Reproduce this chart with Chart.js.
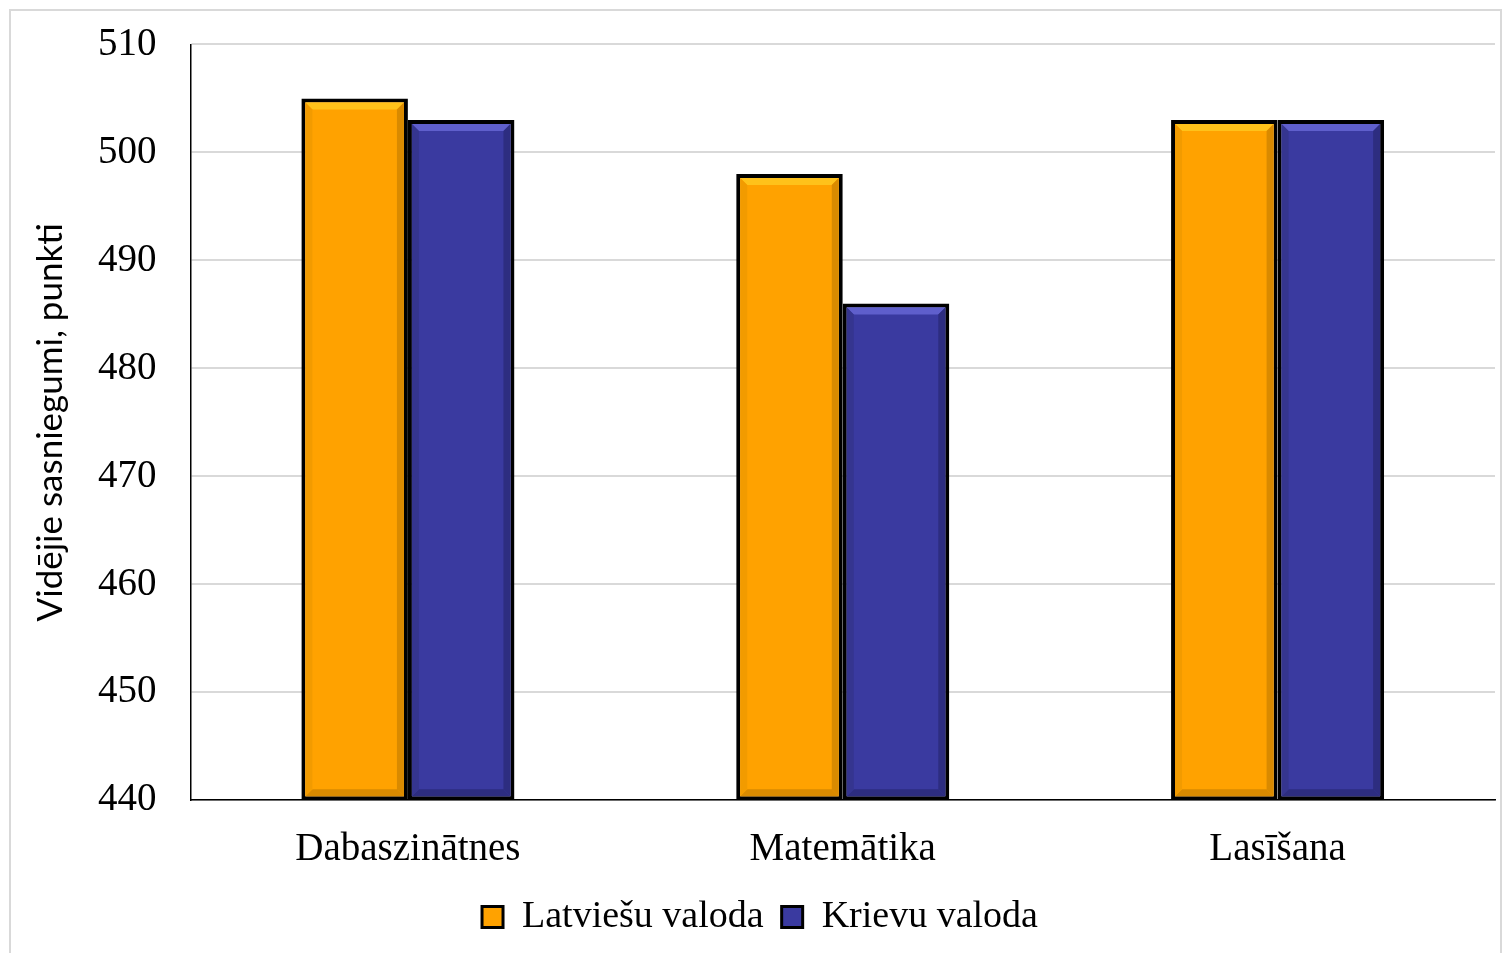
<!DOCTYPE html>
<html>
<head>
<meta charset="utf-8">
<script src="https://cdn.jsdelivr.net/npm/chart.js@4.4.1/dist/chart.umd.min.js"></script>
<style>
  html, body { margin: 0; padding: 0; background: #fff; }
  #frame { position: absolute; left: 9px; top: 9px; width: 1489px; height: 960px; border: 2px solid #d9d9d9; }
  #wrap { position: absolute; left: 0; top: 0; width: 1509px; height: 953px; }
</style>
</head>
<body>
<div id="frame"></div>
<div id="wrap"><canvas id="pisa-chart"></canvas></div>
<script>
const subjects = ['Dabaszinātnes', 'Matemātika', 'Lasīšana'];
const latvianSchools = [505, 498, 503];
const russianSchools = [503, 486, 503];
const yTicks = [440, 450, 460, 470, 480, 490, 500, 510];
const yMin = 440;
const yMax = 510;

const orange = '#FFA200';
const blue = '#3A3AA0';

// light top edge, darker right/bottom edge on each bar
const bevelPlugin = {
    id: 'bevel',
    afterDatasetsDraw(chart) {
        const ctx = chart.ctx;
        chart.data.datasets.forEach((ds, i) => {
            const meta = chart.getDatasetMeta(i);
            meta.data.forEach(bar => {
                const b = 4;
                const left = bar.x - bar.width / 2 + b;
                const right = bar.x + bar.width / 2 - b;
                const top = bar.y + b;
                const bottom = Math.min(bar.base, chart.chartArea.bottom) - b;
                const s = 7;
                ctx.save();
                ctx.fillStyle = ds.bevelLight;
                ctx.beginPath();
                ctx.moveTo(left, top);
                ctx.lineTo(right, top);
                ctx.lineTo(right - s, top + s);
                ctx.lineTo(left + s, top + s);
                ctx.closePath();
                ctx.fill();
                ctx.fillStyle = ds.bevelDark;
                ctx.beginPath();
                ctx.moveTo(right, top);
                ctx.lineTo(right, bottom);
                ctx.lineTo(right - s, bottom - s);
                ctx.lineTo(right - s, top + s);
                ctx.closePath();
                ctx.fill();
                ctx.beginPath();
                ctx.moveTo(left, bottom);
                ctx.lineTo(right, bottom);
                ctx.lineTo(right - s, bottom - s);
                ctx.lineTo(left + s, bottom - s);
                ctx.closePath();
                ctx.fill();
                ctx.fillStyle = ds.bevelMid;
                ctx.beginPath();
                ctx.moveTo(left, top);
                ctx.lineTo(left + s, top + s);
                ctx.lineTo(left + s, bottom - s);
                ctx.lineTo(left, bottom);
                ctx.closePath();
                ctx.fill();
                ctx.restore();
            });
        });
    }
};

const ctx = document.getElementById('pisa-chart').getContext('2d');

const myChart = new Chart(ctx, {
    type: 'bar',
    data: {
        labels: subjects,
        datasets: [
            {
                label: 'Latviešu valoda',
                // bars start at the axis minimum, not at zero
                data: latvianSchools.map(v => [yMin, v]),
                backgroundColor: orange,
                borderColor: '#000',
                borderWidth: 4,
                borderSkipped: false,
                bevelLight: '#FFC21A',
                bevelDark: '#D98A00',
                bevelMid: '#F29B00'
            },
            {
                label: 'Krievu valoda',
                data: russianSchools.map(v => [yMin, v]),
                backgroundColor: blue,
                borderColor: '#000',
                borderWidth: 4,
                borderSkipped: false,
                bevelLight: '#5F5FCC',
                bevelDark: '#2D2D80',
                bevelMid: '#35358F'
            }
        ]
    },
    options: {
        responsive: true,
        maintainAspectRatio: false,
        animation: false,
        categoryPercentage: 0.49,
        barPercentage: 1.0,
        layout: {
            padding: { top: 17, right: 14, left: 25, bottom: 7 }
        },
        plugins: {
            legend: {
                display: true,
                position: 'bottom',
                labels: {
                    color: '#000',
                    font: { family: 'Liberation Serif', size: 38 },
                    boxWidth: 21,
                    boxHeight: 21,
                    padding: 18,
                    generateLabels(chart) {
                        return chart.data.datasets.map((ds, i) => ({
                            text: ds.label,
                            fillStyle: ds.backgroundColor,
                            strokeStyle: '#000',
                            lineWidth: 3,
                            fontColor: '#000',
                            datasetIndex: i,
                            hidden: false
                        }));
                    }
                }
            },
            tooltip: { enabled: false }
        },
        scales: {
            x: {
                grid: { display: false, drawTicks: false },
                border: { color: '#000', width: 1.5 },
                ticks: {
                    color: '#000',
                    font: { family: 'Liberation Serif', size: 39 },
                    padding: 26
                },
                afterFit(scale) {
                    scale.height -= 19;
                }
            },
            y: {
                min: yMin,
                max: yMax,
                afterBuildTicks(scale) {
                    scale.ticks = yTicks.map(v => ({ value: v }));
                },
                // invisible tick marks keep the labels clear of the axis
                grid: { color: '#d9d9d9', lineWidth: 2, drawTicks: true, tickLength: 13, tickColor: 'rgba(0,0,0,0)' },
                border: { color: '#000', width: 1.5 },
                ticks: {
                    color: '#000',
                    font: { family: 'Liberation Serif', size: 39 },
                    padding: 21
                },
                title: {
                    display: true,
                    text: 'Vidējie sasniegumi, punkti',
                    color: '#000',
                    font: { family: 'Lato', size: 35 },
                    padding: 5
                }
            }
        }
    },
    plugins: [bevelPlugin]
});
</script>
</body>
</html>
